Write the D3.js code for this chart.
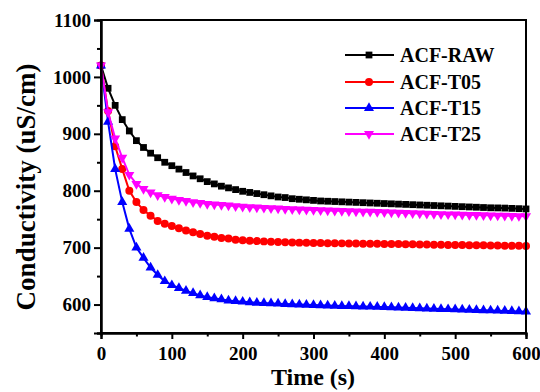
<!DOCTYPE html>
<html>
<head>
<meta charset="utf-8">
<script src="https://cdn.jsdelivr.net/npm/d3@7"></script>
<style>
  html, body { margin: 0; padding: 0; background: #fff; }
  svg { display: block; }
  text { font-family: "Liberation Serif", "Times New Roman", serif; font-weight: bold; fill: #000; }
</style>
</head>
<body>
<svg id="chart" width="540" height="392"></svg>
<script>
const time = [0,10,20,30,40,50,60,70,80,90,100,110,120,130,140,150,160,170,180,190,200,
  210,220,230,240,250,260,270,280,290,300,310,320,330,340,350,360,370,380,390,400,
  410,420,430,440,450,460,470,480,490,500,510,520,530,540,550,560,570,580,590,600];

const acfRaw = [1020,980,950,925,905,888,876,866,858,850,844,838,832,826,821,816,812,808,805,802,799,
  797,795,793,791,789,788,786,785,784,783,782,781.5,781,780.5,780,779.5,779,778.5,778,777.5,
  777,776.5,776,775.5,775,774.5,774,773.5,773,772.5,772,771.5,771,770.5,770,769.8,769.5,769,768.5,768];

const acfT05 = [1020,940,878,838,800,780,766,756,747,742,738,734,730,727,724,721,719,717,716,714,713,
  712,711.5,711,710.5,710,709.5,709,708.8,708.5,708.2,708,707.8,707.6,707.5,707.3,707.2,707,706.9,706.8,706.5,
  706.4,706.2,706,705.8,705.6,705.4,705.2,705,704.8,704.6,704.5,704.3,704.2,704,703.8,703.6,703.5,703.3,703.2,703];

const acfT15 = [1020,921,838,780,733,700,682,665,652,641,634,629,624,620,616,613,611,609,607,606,605,
  604,603,602.5,602,601.5,601,600.5,600,599.5,599,598.6,598.2,597.8,597.5,597.2,596.8,596.5,596.2,595.8,595.5,
  595.1,594.7,594.3,593.9,593.5,593,592.6,592.2,591.8,591.4,591,590.7,590.3,590,589.6,589.2,588.8,588.4,588,587.5];

const acfT25 = [1020,938,892,858,828,812,803,797,792,789,786,784,782,780,778.5,777,776,775,774,773,772,
  771.3,770.6,770,769.4,768.8,768.2,767.7,767.2,766.7,766.2,765.8,765.4,765,764.6,764.2,763.8,763.4,763,762.6,762.2,
  761.8,761.4,761,760.6,760.2,759.8,759.4,759,758.6,758.2,757.9,757.6,757.3,757,756.7,756.4,756.1,755.8,755.5,755.2];

const seriesNames = ["ACF-RAW","ACF-T05","ACF-T15","ACF-T25"];
const seriesValues = [acfRaw, acfT05, acfT15, acfT25];
const seriesColors = ["#000000","#ff0000","#0000ff","#ff00ff"];

const xTicks = [0,100,200,300,400,500,600];
const xMinorTicks = [50,150,250,350,450,550];
const yTicks = [600,700,800,900,1000,1100];
const yMinorTicks = [550,650,750,850,950,1050];

const svg = d3.select("#chart");
const x = d3.scaleLinear().domain([0,600]).range([101,526]);
const y = d3.scaleLinear().domain([550,1100]).range([333,20]);

const symbols = [
  d3.symbol().type(d3.symbolSquare).size(46),
  d3.symbol().type(d3.symbolCircle).size(50),
  d3.symbol().type(d3.symbolTriangle).size(44),
  d3.symbol().type(d3.symbolTriangle).size(44)
];
const rotations = [0,0,0,180];

// data
seriesValues.forEach((vals, i) => {
  const pts = time.map((t, j) => [t, vals[j]]);
  const g = svg.append("g");
  g.append("path")
    .datum(pts)
    .attr("fill","none")
    .attr("stroke", seriesColors[i])
    .attr("stroke-width", 2)
    .attr("d", d3.line().x(d => x(d[0])).y(d => y(d[1])));
  g.selectAll("path.m").data(pts).enter().append("path")
    .attr("class","m")
    .attr("d", symbols[i]())
    .attr("fill", seriesColors[i])
    .attr("transform", d => `translate(${x(d[0])},${y(d[1])}) rotate(${rotations[i]})`);
});

// frame
svg.append("rect")
  .attr("x", x(0)).attr("y", y(1100))
  .attr("width", x(600)-x(0)).attr("height", y(550)-y(1100))
  .attr("fill","none").attr("stroke","#000").attr("stroke-width",2);

// axes
const xAxis = svg.append("g").attr("transform", `translate(0,${y(550)})`)
  .call(d3.axisBottom(x).tickValues(xTicks).tickSize(6).tickPadding(4).tickFormat(d3.format("d")));
const xMinor = svg.append("g").attr("transform", `translate(0,${y(550)})`)
  .call(d3.axisBottom(x).tickValues(xMinorTicks).tickSize(3.5).tickFormat(""));
const yAxis = svg.append("g").attr("transform", `translate(${x(0)},0)`)
  .call(d3.axisLeft(y).tickValues(yTicks).tickSize(7).tickPadding(3).tickFormat(d3.format("d")));
const yMinor = svg.append("g").attr("transform", `translate(${x(0)},0)`)
  .call(d3.axisLeft(y).tickValues(yMinorTicks).tickSize(4).tickFormat(""));

[xAxis, xMinor, yAxis, yMinor].forEach(a => {
  a.select(".domain").attr("stroke","#000").attr("stroke-width",2);
  a.selectAll(".tick line").attr("stroke","#000").attr("stroke-width",2);
});
xAxis.selectAll(".tick text").attr("font-size", 19).attr("font-family", null).attr("dy","0.9em");
yAxis.selectAll(".tick text").attr("font-size", 19).attr("font-family", null);

// axis titles
svg.append("text")
  .attr("x", 313).attr("y", 385)
  .attr("text-anchor","middle")
  .attr("font-size", 24)
  .text("Time (s)");
svg.append("text")
  .attr("transform", "translate(35,187) rotate(-90)")
  .attr("text-anchor","middle")
  .attr("font-size", 27)
  .text("Conductivity (uS/cm)");

// legend
const legendY = [55, 82, 108, 134];
seriesNames.forEach((name, i) => {
  const g = svg.append("g");
  g.append("line").attr("x1",345).attr("x2",394).attr("y1",legendY[i]).attr("y2",legendY[i])
    .attr("stroke", seriesColors[i]).attr("stroke-width",2);
  g.append("path").attr("d", symbols[i]()).attr("fill", seriesColors[i])
    .attr("transform", `translate(369,${legendY[i]}) rotate(${rotations[i]})`);
  g.append("text").attr("x",400).attr("y",legendY[i]).attr("dy","0.35em")
    .attr("font-size", 20).text(name);
});
</script>
</body>
</html>
